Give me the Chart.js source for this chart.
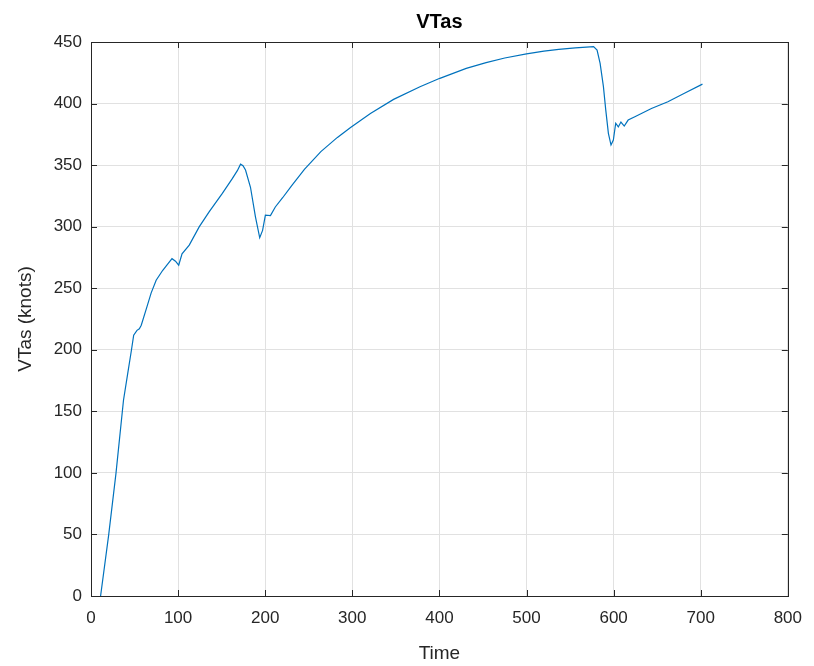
<!DOCTYPE html>
<html>
<head>
<meta charset="utf-8">
<script src="https://cdn.jsdelivr.net/npm/chart.js@4"></script>
<style>
  body { margin: 0; background: #fff; }
  #wrap { width: 814px; height: 666px; }
</style>
</head>
<body>
<div id="wrap"><canvas id="chart" width="814" height="666"></canvas></div>
<script>
// Time axis values (s)
const timeSec = [
  11, 20.3, 28.7, 37.3, 42, 46.4, 49, 52.8, 55.5, 57.7, 64.2, 69, 74.8, 82.4, 88, 93, 97,
  100.7, 104.5, 112.8, 124.2, 135.6, 150.8, 162.2, 168, 171.7, 174.5, 177.4, 183.1, 188.8,
  193.7, 197, 200.2, 206, 211.6, 220, 230, 245, 263.9, 282.9, 298, 320.8, 347.4, 377.7, 400.5,
  430.8, 453.6, 475, 500, 520, 537, 556, 577, 581, 584.5, 588.3, 591, 594, 597, 599.7, 602.4,
  605.4, 608.4, 612.2, 616.7, 624.4, 643.4, 662.3, 681.3, 702
];
// VTas (knots) at each time above
const vtasKnots = [
  0, 49.7, 99.8, 159, 180, 199.6, 211.8, 215.8, 217, 219.9, 234.8, 246, 256.5, 264.6, 269.5, 274, 272,
  268.7, 278, 285, 299.8, 312, 327, 339, 345.5, 350.8, 349.5, 346, 332, 308,
  291, 297, 309.3, 309, 316, 323.5, 333, 346.5, 361, 372.5, 380.6, 392, 403.4, 413.7, 420.5,
  428.6, 433.2, 437, 440.4, 442.6, 444, 445.2, 446.2, 443.5, 432.7, 413.7, 394.7, 375.8, 366.3, 370.3, 384,
  381, 385, 381.7, 386.6, 389.3, 396, 401.5, 408.3, 415.8
];

const xTicks = [0, 100, 200, 300, 400, 500, 600, 700, 800];
const yTicks = [0, 50, 100, 150, 200, 250, 300, 350, 400, 450];

const axisColor = '#262626';
const gridColor = '#e1e1e1';
const fontFamily = 'Arial, "Liberation Sans", Helvetica, sans-serif';

// MATLAB-style box with inward ticks on all four sides
const boxTicks = {
  id: 'boxTicks',
  afterDatasetsDraw(chart) {
    const { ctx, chartArea: a, scales: { x, y } } = chart;
    const len = 6;
    ctx.save();
    ctx.strokeStyle = axisColor;
    ctx.lineWidth = 1;
    ctx.beginPath();
    x.ticks.forEach(t => {
      const px = Math.round(x.getPixelForValue(t.value)) + 0.5;
      ctx.moveTo(px, a.bottom); ctx.lineTo(px, a.bottom - len);
      ctx.moveTo(px, a.top); ctx.lineTo(px, a.top + len);
    });
    y.ticks.forEach(t => {
      const py = Math.round(y.getPixelForValue(t.value)) + 0.5;
      ctx.moveTo(a.left, py); ctx.lineTo(a.left + len, py);
      ctx.moveTo(a.right, py); ctx.lineTo(a.right - len, py);
    });
    ctx.stroke();
    ctx.strokeRect(Math.round(a.left) + 0.5, Math.round(a.top) + 0.5,
      Math.round(a.right - a.left), Math.round(a.bottom - a.top));
    ctx.restore();
  }
};

new Chart(document.getElementById('chart'), {
  type: 'scatter',
  data: {
    datasets: [{
      label: 'VTas',
      data: timeSec.map((t, i) => ({ x: t, y: vtasKnots[i] })),
      showLine: true,
      borderColor: '#0072BD',
      borderWidth: 1.2,
      pointRadius: 0,
      tension: 0
    }]
  },
  options: {
    responsive: false,
    animation: false,
    devicePixelRatio: 1,
    layout: { padding: { left: 0, right: 21, top: 0, bottom: 0 } },
    plugins: {
      legend: { display: false },
      tooltip: { enabled: false }
    },
    scales: {
      x: {
        type: 'linear', position: 'bottom', min: 0, max: 800,
        afterBuildTicks: s => { s.ticks = xTicks.map(v => ({ value: v })); },
        ticks: { color: axisColor, font: { family: fontFamily, size: 17 }, padding: 12, maxRotation: 0 },
        grid: { color: gridColor, drawTicks: false },
        border: { display: false },
        title: { display: true, text: 'Time', color: axisColor,
                 font: { family: fontFamily, size: 19 }, padding: { top: 0, bottom: 1 } },
        afterFit: s => { s.height = 70; }
      },
      top: {
        type: 'linear', position: 'top', min: 0, max: 800,
        ticks: { display: false },
        grid: { display: false, drawTicks: false },
        border: { display: false },
        title: { display: true, text: 'VTas', color: '#000',
                 font: { family: fontFamily, size: 20, weight: 'bold' }, padding: { top: 10, bottom: 0 } },
        afterFit: s => { s.height = 42; }
      },
      y: {
        type: 'linear', min: 0, max: 450,
        afterBuildTicks: s => { s.ticks = yTicks.map(v => ({ value: v })); },
        ticks: { color: axisColor, font: { family: fontFamily, size: 17 }, padding: 9 },
        grid: { color: gridColor, drawTicks: false },
        border: { display: false },
        title: { display: true, text: 'VTas (knots)', color: axisColor,
                 font: { family: fontFamily, size: 19 }, padding: { top: 14, bottom: 0 } },
        afterFit: s => { s.width = 91; }
      }
    }
  },
  plugins: [boxTicks]
});
</script>
</body>
</html>
